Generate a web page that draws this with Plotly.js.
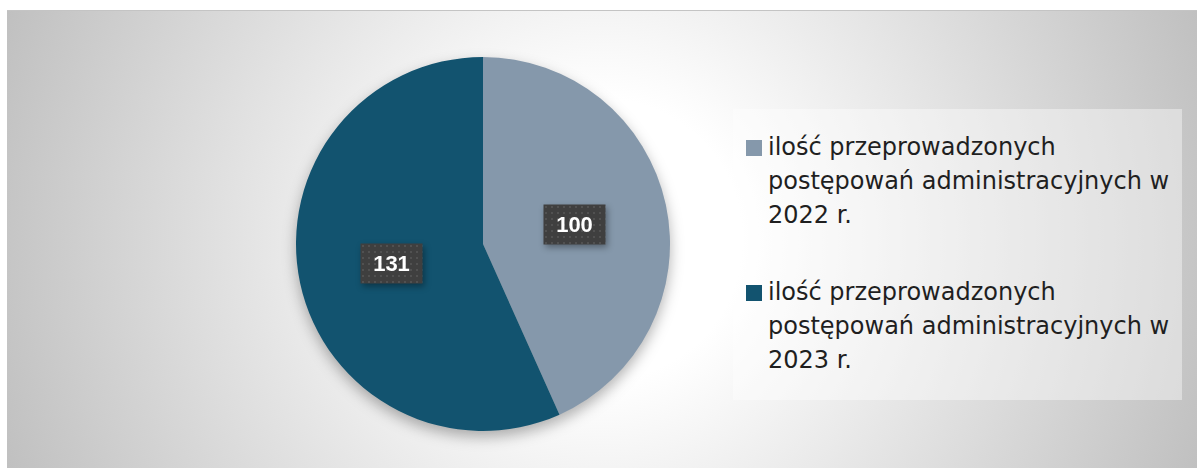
<!DOCTYPE html>
<html>
<head>
<meta charset="utf-8">
<script src="https://cdn.plot.ly/plotly-3.0.1.min.js"></script>
<style>
  html, body { margin: 0; padding: 0; background: #ffffff; width: 1197px; height: 468px; overflow: hidden; }
  #bg { position: absolute; left: 7px; top: 10px; width: 1190px; height: 458px;
        background: radial-gradient(circle farthest-corner at 50% 50%, #ffffff 0%, #ffffff 22%, #c0c0c0 100%);
        border-top: 1px solid #c4c4c4; box-sizing: border-box; }
  #chart { position: absolute; left: 0; top: 0; width: 1197px; height: 468px; }
  .pielayer { filter: drop-shadow(0px 6px 7px rgba(0,0,0,0.30)); }
  .annotation { filter: drop-shadow(2px 3px 3px rgba(0,0,0,0.35)); }
</style>
</head>
<body>
<div id="bg"></div>
<div id="chart"></div>
<script>
const categories = [
  "ilość przeprowadzonych<br>postępowań administracyjnych w<br>2022 r.",
  "ilość przeprowadzonych<br>postępowań administracyjnych w<br>2023 r."
];
const values = [100, 131];
const colors = ["#8598AB", "#12536F"];

const W = 1197, H = 468;
const cx = 483, cy = 244, R = 187;
const domX = [(cx - R) / W, (cx + R) / W];
const domY = [(H - cy - R) / H, (H - cy + R) / H];

// legend box geometry (px)
const LEG = { x: 733, y: 109, w: 449, h: 291, textX: 35, firstBase: 46, lineH: 34, itemGap: 145, symX: 21, symSize: 16 };

// label positions derived from the data (mid-angle, half radius)
const total = values.reduce((a, b) => a + b, 0);
let cum = 0;
const annotations = values.map((v) => {
  const mid = (cum + v / 2) / total * 2 * Math.PI;
  cum += v;
  const px = cx + 0.5 * R * Math.sin(mid);
  const py = cy - 0.5 * R * Math.cos(mid);
  return {
    x: px / W, y: 1 - py / H, xref: "paper", yref: "paper",
    xanchor: "center", yanchor: "middle",
    text: "<b>" + v + "</b>", showarrow: false,
    font: { family: "Liberation Sans, Arial, sans-serif", size: 22, color: "#ffffff" },
    bgcolor: "#404040", width: 61, height: 39, borderpad: 0
  };
});

const data = [{
  type: "pie",
  labels: categories,
  values: values,
  marker: { colors: colors, line: { width: 0 } },
  sort: false,
  direction: "clockwise",
  rotation: 0,
  textinfo: "none",
  hoverinfo: "none",
  domain: { x: domX, y: domY }
}];

const layout = {
  width: W, height: H,
  margin: { l: 0, r: 0, t: 0, b: 0 },
  paper_bgcolor: "rgba(0,0,0,0)",
  plot_bgcolor: "rgba(0,0,0,0)",
  showlegend: true,
  legend: {
    x: LEG.x / W, y: 1 - LEG.y / H, xanchor: "left", yanchor: "top",
    bgcolor: "rgba(255,255,255,0.4)",
    font: { family: "'DejaVu Sans', sans-serif", size: 24, color: "#1f1f1f" },
    orientation: "v", valign: "top",
    traceorder: "normal"
  },
  annotations: annotations
};

const gd = document.getElementById("chart");
Plotly.newPlot(gd, data, layout, { displayModeBar: false, staticPlot: true }).then(() => {
  const svgNS = "http://www.w3.org/2000/svg";
  // dotted texture for label boxes
  const svg = gd.querySelector("svg.main-svg");
  let defs = svg.querySelector("defs");
  if (!defs) { defs = document.createElementNS(svgNS, "defs"); svg.insertBefore(defs, svg.firstChild); }
  const pat = document.createElementNS(svgNS, "pattern");
  pat.setAttribute("id", "dotsPat");
  pat.setAttribute("width", "6"); pat.setAttribute("height", "6");
  pat.setAttribute("patternUnits", "userSpaceOnUse");
  const r1 = document.createElementNS(svgNS, "rect");
  r1.setAttribute("width", "6"); r1.setAttribute("height", "6"); r1.setAttribute("fill", "#3f3f3f");
  const r2 = document.createElementNS(svgNS, "rect");
  r2.setAttribute("x", "2"); r2.setAttribute("y", "2"); r2.setAttribute("width", "2"); r2.setAttribute("height", "2"); r2.setAttribute("fill", "#515151");
  pat.appendChild(r1); pat.appendChild(r2); defs.appendChild(pat);
  gd.querySelectorAll("g.annotation rect.bg").forEach(r => { r.style.fill = "url(#dotsPat)"; });

  // legend layout to match reference spacing
  const legend = gd.querySelector("g.legend");
  if (!legend) return;
  legend.setAttribute("transform", `translate(${LEG.x},${LEG.y})`);
  const bg = legend.querySelector("rect.bg");
  if (bg) { bg.setAttribute("x", 0); bg.setAttribute("y", 0); bg.setAttribute("width", LEG.w); bg.setAttribute("height", LEG.h); }
  legend.querySelectorAll("[clip-path]").forEach(el => el.removeAttribute("clip-path"));
  const sb = legend.querySelector("g.scrollbox");
  if (sb) sb.setAttribute("transform", "translate(0,0)");
  legend.querySelectorAll("g.traces").forEach((t, i) => {
    t.setAttribute("transform", "translate(0,0)");
    const base = LEG.firstBase + i * LEG.itemGap;
    const txt = t.querySelector("text.legendtext");
    if (txt) {
      txt.setAttribute("x", LEG.textX); txt.setAttribute("y", base);
      txt.querySelectorAll("tspan.line").forEach((ts, j) => {
        ts.setAttribute("x", LEG.textX); ts.setAttribute("y", base); ts.setAttribute("dy", j * LEG.lineH);
      });
    }
    const s = LEG.symSize / 12;
    t.querySelectorAll(".legendpoints path").forEach(p => {
      let el = p.parentNode;
      while (el && el !== t) { el.removeAttribute("transform"); el = el.parentNode; }
      p.setAttribute("transform", `translate(${LEG.symX},${base - 7}) scale(${s})`);
    });
  });
});
</script>
</body>
</html>
